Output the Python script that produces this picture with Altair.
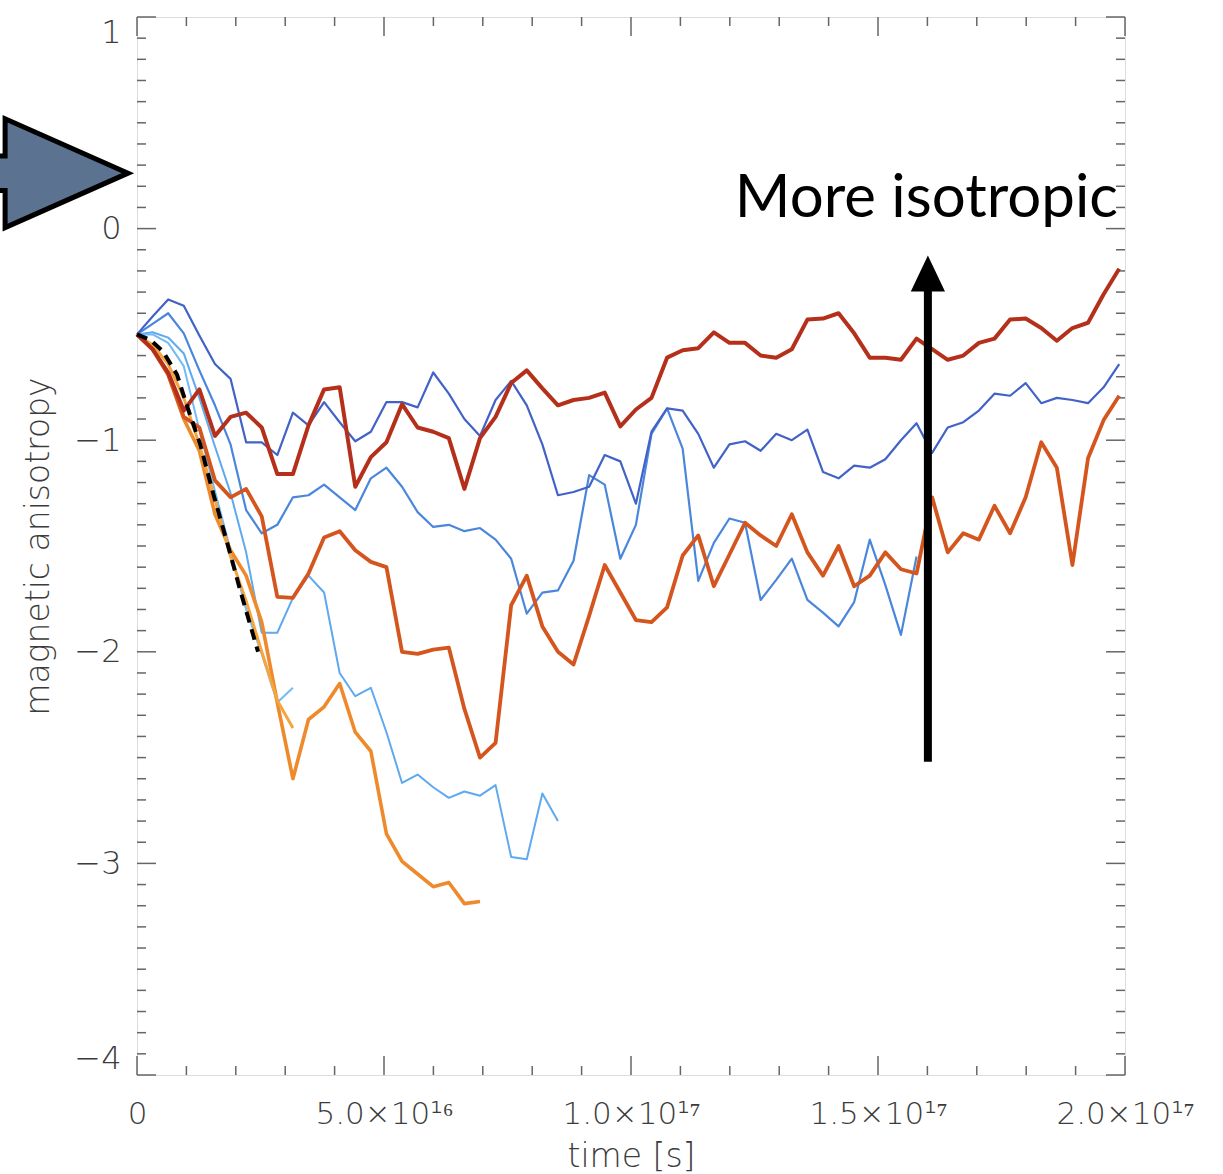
import altair as alt
import pandas as pd

# ---------------- data ----------------
T_STEP = 3.156e15  # seconds between successive snapshots (0.1 Gyr)

dark_red = [-0.50, -0.57, -0.68, -0.86, -0.76, -0.98, -0.89, -0.87, -0.94, -1.16,
            -1.16, -0.93, -0.76, -0.75, -1.22, -1.08, -1.01, -0.83, -0.94, -0.96,
            -0.99, -1.23, -0.99, -0.89, -0.73, -0.67, -0.755, -0.835, -0.81, -0.80,
            -0.775, -0.935, -0.855, -0.80, -0.61, -0.575, -0.565, -0.49, -0.54, -0.54,
            -0.60, -0.61, -0.57, -0.43, -0.425, -0.40, -0.495, -0.61, -0.61, -0.62,
            -0.52, -0.57, -0.62, -0.60, -0.54, -0.52, -0.43, -0.425, -0.47, -0.53,
            -0.47, -0.445, -0.31, -0.19]

dark_blue = [-0.50, -0.415, -0.335, -0.365, -0.505, -0.64, -0.71, -1.01, -1.01, -1.07,
             -0.87, -0.93, -0.82, -0.915, -1.005, -0.96, -0.82, -0.82, -0.845, -0.68,
             -0.78, -0.90, -0.98, -0.81, -0.72, -0.835, -1.02, -1.26, -1.245, -1.22,
             -1.07, -1.10, -1.30, -0.96, -0.85, -0.86, -0.97, -1.13, -1.02, -1.005,
             -1.05, -0.97, -1.00, -0.95, -1.15, -1.18, -1.12, -1.13, -1.09, -1.00,
             -0.92, -1.06, -0.94, -0.915, -0.86, -0.78, -0.79, -0.73, -0.825, -0.80,
             -0.81, -0.825, -0.75, -0.64]

mid_blue = [-0.50, -0.45, -0.40, -0.495, -0.67, -0.835, -1.02, -1.33, -1.44, -1.40,
            -1.27, -1.26, -1.21, -1.27, -1.33, -1.18, -1.13, -1.22, -1.34, -1.41,
            -1.40, -1.43, -1.415, -1.47, -1.56, -1.82, -1.72, -1.71, -1.57, -1.165,
            -1.21, -1.56, -1.40, -0.97, -0.85, -1.04, -1.665, -1.485, -1.37, -1.39,
            -1.755, -1.66, -1.56, -1.755, -1.815, -1.88, -1.765, -1.47, -1.685, -1.92,
            -1.55]

orange_red = [-0.50, -0.57, -0.69, -0.89, -0.94, -1.19, -1.27, -1.23, -1.36, -1.74,
              -1.745, -1.63, -1.46, -1.43, -1.52, -1.575, -1.60, -2.00, -2.01, -1.99,
              -1.98, -2.27, -2.50, -2.43, -1.78, -1.64, -1.88, -2.00, -2.06, -1.83,
              -1.59, -1.72, -1.85, -1.86, -1.79, -1.545, -1.45, -1.69, -1.54, -1.39,
              -1.45, -1.50, -1.35, -1.53, -1.64, -1.50, -1.69, -1.64, -1.53, -1.61,
              -1.63, -1.27, -1.53, -1.44, -1.47, -1.31, -1.44, -1.27, -1.01, -1.13,
              -1.59, -1.085, -0.905, -0.79]

orange_long = [-0.50, -0.57, -0.69, -0.90, -1.05, -1.35, -1.52, -1.64, -1.86, -2.24,
               -2.60, -2.32, -2.26, -2.15, -2.38, -2.47, -2.86, -2.99, -3.05, -3.11,
               -3.09, -3.19, -3.18]

orange_short = [-0.50, -0.55, -0.64, -0.80, -1.02, -1.28, -1.55, -1.76, -2.00, -2.23,
                -2.36]

light_blue_long = [-0.50, -0.49, -0.515, -0.59, -0.80, -1.03, -1.25, -1.53, -1.91, -1.91,
                   -1.745, -1.64, -1.72, -2.10, -2.21, -2.17, -2.38, -2.62, -2.58, -2.64,
                   -2.69, -2.66, -2.68, -2.63, -2.97, -2.98, -2.67, -2.80]

light_blue_short = [-0.50, -0.50, -0.54, -0.65, -0.95, -1.24, -1.52, -1.80, -2.01, -2.24,
                    -2.17]

# dashed reference curve: time (units of 1e16 s) and value
dash_t = [0.0, 0.263, 0.526, 0.81, 1.03, 1.28, 1.54, 1.82, 2.09, 2.45]
dash_v = [-0.50, -0.525, -0.58, -0.69, -0.85, -1.02, -1.25, -1.48, -1.71, -2.00]

# axes
x_major = [0, 5e16, 1e17, 1.5e17, 2e17]
x_labels = ["0", "5.0×10¹⁶", "1.0×10¹⁷", "1.5×10¹⁷", "2.0×10¹⁷"]
x_minor = [k * 1e16 for k in range(21) if k % 5]
y_major = [-4, -3, -2, -1, 0, 1]
y_minor = [round(-4 + 0.1 * k, 1) for k in range(51) if k % 10]

# annotations (data coordinates)
arrow_t = 1.601e17
arrow_y0, arrow_y1, arrow_tip = -2.52, -0.25, -0.212
note_t, note_y = 2.0e17, 0.057
note_text = "More isotropic"
block_arrow_t, block_arrow_y = -1.478e16, 0.262

# ---------------- chart ----------------
W, H = 988, 1058
xs = alt.Scale(domain=[0, 2e17], nice=False, zero=False)
ys = alt.Scale(domain=[-4, 1], nice=False, zero=False)
AX_FONT = "DejaVu Sans"
LBL_COLOR = "#3c3c3c"


def frame(vals):
    return pd.DataFrame({"t": [i * T_STEP for i in range(len(vals))], "v": vals})


layers = []

# axes layer (labels and titles only)
label_expr = "[" + ",".join("'%s'" % s for s in x_labels) + "][round(datum.value / 5e16)]"
x_axis = alt.Axis(values=x_major, labelExpr=label_expr, ticks=False, domain=False, grid=False,
                  title="time [s]", labelFont=AX_FONT, labelFontSize=31, labelColor=LBL_COLOR,
                  labelFontWeight=300, labelPadding=24, labelFlush=False, labelOverlap=False,
                  titleFont=AX_FONT, titleFontSize=33, titleFontWeight=300, titleColor=LBL_COLOR,
                  titlePadding=11)
y_axis = alt.Axis(values=y_major, ticks=False, domain=False, grid=False,
                  title="magnetic anisotropy", labelFont=AX_FONT, labelFontSize=32,
                  labelColor=LBL_COLOR, labelFontWeight=300, labelPadding=16, labelFlush=True,
                  labelOverlap=False, titleFont=AX_FONT, titleFontSize=33, titleFontWeight=300,
                  titleColor=LBL_COLOR, titlePadding=18)
axes_df = pd.DataFrame({"t": [0.0], "v": [-4.0]})
layers.append(alt.Chart(axes_df).mark_point(opacity=0).encode(
    x=alt.X("t:Q", scale=xs, axis=x_axis), y=alt.Y("v:Q", scale=ys, axis=y_axis)))


# inward ticks
def tick_layer(vals, field_axis, a, b):
    df = pd.DataFrame({"p": vals})
    base = alt.Chart(df).mark_rule(color="#666666", strokeWidth=1.5)
    if field_axis == "y":
        return base.encode(y=alt.Y("p:Q", scale=ys, axis=None), x=alt.value(a), x2=alt.value(b))
    return base.encode(x=alt.X("p:Q", scale=xs, axis=None), y=alt.value(a), y2=alt.value(b))


layers += [
    tick_layer(y_major, "y", 0, 19), tick_layer(y_minor, "y", 0, 9),
    tick_layer(y_major, "y", W, W - 19), tick_layer(y_minor, "y", W, W - 9),
    tick_layer(x_major, "x", H, H - 19), tick_layer(x_minor, "x", H, H - 9),
    tick_layer(x_major, "x", 0, 19), tick_layer(x_minor, "x", 0, 9),
]

series = [
    (light_blue_long, "#5ea9ef", 2.0),
    (light_blue_short, "#72bbf5", 2.0),
    (mid_blue, "#4a87dc", 2.2),
    (dark_blue, "#4262c8", 2.2),
    (orange_long, "#ee8a2c", 3.6),
    (orange_short, "#f4a53e", 3.0),
    (orange_red, "#d4561e", 3.8),
    (dark_red, "#b5301b", 4.0),
]

for vals, col, sw in series:
    layers.append(alt.Chart(frame(vals)).mark_line(color=col, strokeWidth=sw,
                                                   strokeJoin="round").encode(
        x=alt.X("t:Q", scale=xs, axis=None), y=alt.Y("v:Q", scale=ys, axis=None)))

dash_df = pd.DataFrame({"t": [t * 1e16 for t in dash_t], "v": dash_v})
layers.append(alt.Chart(dash_df).mark_line(color="black", strokeWidth=4, strokeDash=[11, 7]).encode(
    x=alt.X("t:Q", scale=xs, axis=None), y=alt.Y("v:Q", scale=ys, axis=None)))

# vertical arrow
arrow_df = pd.DataFrame({"t": [arrow_t], "y0": [arrow_y0], "y1": [arrow_y1], "tip": [arrow_tip]})
layers.append(alt.Chart(arrow_df).mark_rule(color="black", strokeWidth=8).encode(
    x=alt.X("t:Q", scale=xs, axis=None), y=alt.Y("y0:Q", scale=ys, axis=None), y2="y1:Q"))
layers.append(alt.Chart(arrow_df).mark_point(shape="M 0 -1 L 0.95 1 L -0.95 1 Z", filled=True,
                                             color="black", opacity=1, size=1296).encode(
    x=alt.X("t:Q", scale=xs, axis=None), y=alt.Y("tip:Q", scale=ys, axis=None)))

# annotation text
note_df = pd.DataFrame({"t": [note_t], "y": [note_y], "s": [note_text]})
layers.append(alt.Chart(note_df).mark_text(align="right", baseline="alphabetic", font="Lato",
                                           fontSize=60, color="black", dx=-7).encode(
    x=alt.X("t:Q", scale=xs, axis=None), y=alt.Y("y:Q", scale=ys, axis=None), text="s:N"))

# block arrow on the left margin
blk_df = pd.DataFrame({"t": [block_arrow_t], "y": [block_arrow_y]})
layers.append(alt.Chart(blk_df).mark_point(
    shape="M -1.3 -0.27 L -0.92 -0.27 L -0.92 -0.85 L 1 0 L -0.92 0.85 L -0.92 0.27 L -1.3 0.27 Z",
    filled=True, fill="#5b7391", stroke="black", strokeWidth=5, opacity=1, size=16384).encode(
    x=alt.X("t:Q", scale=xs, axis=None), y=alt.Y("y:Q", scale=ys, axis=None)))

chart = alt.layer(*layers).resolve_axis(x="independent", y="independent").properties(
    width=W, height=H,
    autosize=alt.AutoSizeParams(type="none"),
    padding={"left": 137, "top": 17, "right": 98, "bottom": 99},
).configure_view(stroke="#888888", strokeWidth=2).configure(background="white")

chart.save("out.html", embed_options={"renderer": "svg", "actions": False})
